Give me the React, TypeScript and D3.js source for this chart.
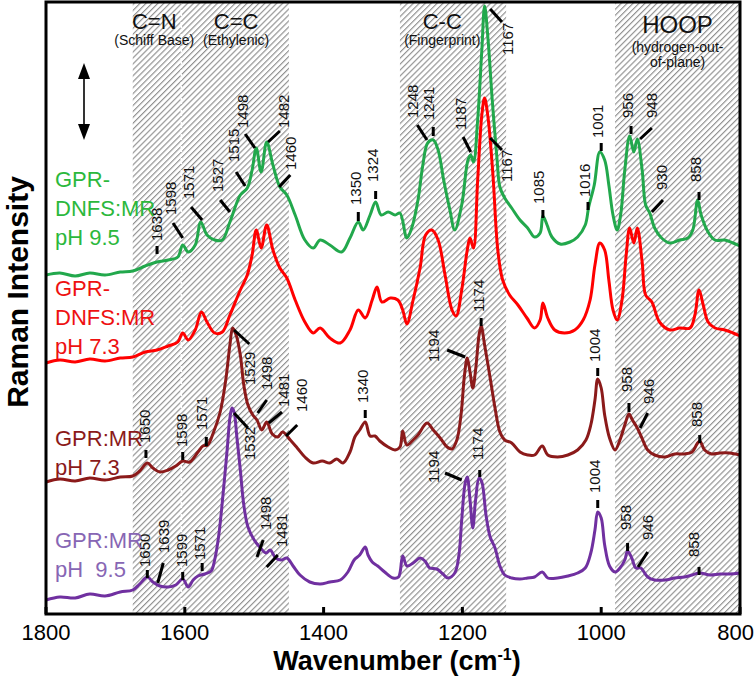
import React from 'react';
import * as d3 from 'd3';

// wavenumber axis (cm-1)
const wnTicks = [1800, 1600, 1400, 1200, 1000, 800];

// spectra: [wavenumber, intensity (a.u., offset stacked)]
const dnfs95 = [[1800,339],[1780,341],[1758,338],[1737,341],[1715,339],[1693,342],[1675,343],[1657,348],[1640,352],[1624,354],[1610,357],[1603,369],[1595,362],[1585,369],[1577,392],[1568,379],[1557,374],[1546,374],[1535,392],[1520,419],[1510,426],[1503,444],[1497,466],[1490,442],[1482,472],[1473,449],[1463,427],[1453,419],[1441,399],[1427,374],[1415,366],[1405,374],[1391,369],[1374,362],[1362,376],[1350,392],[1343,384],[1333,399],[1325,412],[1317,399],[1307,402],[1297,399],[1290,401],[1280,376],[1273,386],[1264,414],[1257,449],[1250,471],[1242,474],[1235,464],[1227,434],[1218,404],[1211,384],[1201,409],[1192,454],[1188,459],[1184,452],[1178,494],[1172,564],[1168,608],[1163,574],[1157,514],[1150,454],[1146,427],[1139,416],[1129,406],[1117,394],[1106,386],[1096,377],[1088,381],[1084,398],[1078,389],[1071,377],[1059,370],[1045,372],[1034,377],[1023,389],[1018,407],[1010,429],[1002,462],[995,454],[989,429],[983,399],[977,384],[972,399],[966,444],[959,478],[953,462],[948,475],[941,444],[936,409],[930,401],[923,386],[913,376],[901,371],[887,374],[875,376],[868,384],[861,414],[856,399],[846,382],[836,374],[822,374],[810,371],[800,368]];

const dnfs73 = [[1800,251],[1780,254],[1758,252],[1737,255],[1715,253],[1693,256],[1675,257],[1657,262],[1640,264],[1624,268],[1610,272],[1603,281],[1595,274],[1585,284],[1576,302],[1568,292],[1557,281],[1546,282],[1535,299],[1520,324],[1510,339],[1503,359],[1497,384],[1490,366],[1482,389],[1473,364],[1463,346],[1453,336],[1441,314],[1427,292],[1415,281],[1405,286],[1391,276],[1376,271],[1362,284],[1350,304],[1340,296],[1330,314],[1323,327],[1316,312],[1304,316],[1293,314],[1286,304],[1280,290],[1271,314],[1261,346],[1253,379],[1244,384],[1235,374],[1225,339],[1215,304],[1209,298],[1201,324],[1193,364],[1189,376],[1184,366],[1178,434],[1172,499],[1168,516],[1163,496],[1156,439],[1149,364],[1142,334],[1132,319],[1120,309],[1107,296],[1096,286],[1088,294],[1084,311],[1077,296],[1067,284],[1053,281],[1038,284],[1026,294],[1016,314],[1009,349],[1002,371],[995,364],[989,334],[983,304],[977,294],[970,314],[964,359],[959,386],[953,371],[948,386],[941,352],[936,319],[927,312],[916,292],[901,284],[887,286],[872,286],[865,299],[859,324],[853,309],[846,292],[836,286],[822,284],[810,281],[800,278]];

const gpr73 = [[1800,132],[1780,135],[1758,133],[1737,136],[1715,134],[1693,137],[1675,138],[1665,143],[1654,151],[1646,146],[1636,142],[1624,144],[1613,148],[1603,153],[1593,152],[1581,162],[1574,168],[1567,169],[1559,181],[1549,202],[1541,234],[1535,269],[1531,286],[1526,279],[1520,259],[1515,229],[1509,209],[1502,199],[1496,194],[1489,184],[1482,192],[1474,180],[1466,177],[1459,182],[1448,174],[1438,166],[1427,157],[1415,151],[1402,153],[1391,151],[1381,155],[1372,151],[1362,162],[1355,177],[1348,184],[1340,192],[1333,178],[1326,178],[1319,173],[1307,167],[1297,164],[1290,167],[1286,183],[1280,169],[1271,174],[1264,179],[1251,191],[1242,184],[1232,176],[1222,167],[1215,165],[1208,174],[1202,199],[1197,239],[1193,256],[1189,242],[1185,226],[1181,244],[1176,279],[1173,288],[1168,269],[1160,236],[1153,206],[1146,182],[1139,174],[1129,171],[1117,162],[1106,159],[1096,159],[1085,168],[1077,159],[1063,157],[1048,159],[1034,164],[1022,174],[1015,189],[1009,214],[1005,235],[1000,226],[995,199],[988,176],[980,164],[973,174],[966,189],[960,200],[955,194],[948,186],[942,177],[933,164],[923,159],[908,157],[894,160],[880,160],[869,162],[862,170],[858,173],[851,164],[841,160],[829,161],[815,161],[800,159]];

const gpr95 = [[1800,14],[1780,17],[1758,16],[1737,20],[1715,18],[1693,22],[1675,24],[1665,30],[1654,37],[1646,32],[1636,28],[1624,27],[1613,29],[1603,35],[1595,27],[1588,34],[1581,38],[1571,40],[1562,43],[1557,54],[1551,79],[1545,119],[1539,164],[1535,196],[1532,206],[1529,202],[1525,177],[1520,144],[1515,109],[1509,87],[1500,74],[1492,67],[1483,61],[1477,64],[1469,56],[1461,54],[1453,56],[1444,48],[1434,39],[1420,32],[1405,30],[1391,32],[1376,34],[1365,42],[1356,54],[1348,59],[1340,67],[1336,59],[1330,52],[1322,48],[1312,42],[1300,36],[1292,37],[1286,58],[1280,48],[1271,51],[1261,56],[1254,53],[1247,46],[1237,45],[1228,40],[1221,36],[1211,41],[1205,59],[1201,94],[1196,131],[1193,137],[1189,114],[1185,86],[1181,114],[1176,136],[1172,132],[1166,99],[1160,77],[1153,66],[1146,48],[1139,39],[1129,36],[1117,35],[1106,36],[1096,37],[1085,42],[1077,36],[1063,36],[1048,38],[1034,41],[1023,46],[1015,61],[1009,84],[1005,102],[1000,96],[995,69],[988,48],[980,42],[973,46],[966,54],[962,63],[956,56],[950,46],[943,46],[933,37],[923,34],[908,34],[894,36],[880,37],[869,39],[858,41],[843,39],[829,40],[815,40],[800,41]];

// series names (label lines) and colours
const seriesNames = [
  ['GPR-', 'DNFS:MR', 'pH 9.5'],
  ['GPR-', 'DNFS:MR', 'pH 7.3'],
  ['GPR:MR', 'pH 7.3'],
  ['GPR:MR', 'pH  9.5'],
];
const lineColors = ['#22a84c', '#ff0000', '#8b1a1a', '#7030a0'];
const labelColors = ['#2cb83c', '#ee1111', '#8b1a1a', '#8766b4'];
const labelTopV = [427, 318, 168, 66]; // intensity of first label line baseline

// shaded regions (cm-1)
const bands = [[1675, 1450], [1290, 1137], [980, 800]];
const bandSplit = 1605;
const bandTitles = [
  ['C=N', '(Schiff Base)', 1644, ''],
  ['C=C', '(Ethylenic)', 1526, ''],
  ['C-C', '(Fingerprint)', 1229, ''],
  ['HOOP', '(hydrogen-out-', 890, 'of-plane)'],
];

// peak annotations: [text, textWn, textV, markWn1, markV1, markWn2, markV2]
const peaks95dnfs = [
  ['1638', 1640, 373, 1640, 368, 1640, 360],
  ['1598', 1620, 399, 1617, 391, 1603, 376],
  ['1571', 1595, 415, 1591, 407, 1575, 394],
  ['1527', 1552, 422, 1549, 414, 1535, 402],
  ['1515', 1530, 452, 1526, 442, 1513, 428],
  ['1498', 1516, 486, 1513, 480, 1499, 466],
  ['1482', 1457, 486, 1463, 483, 1480, 472],
  ['1460', 1447, 444, 1448, 439, 1464, 427],
  ['1350', 1353, 409, 1350, 402, 1350, 393],
  ['1324', 1329, 432, 1325, 423, 1325, 415],
  ['1248', 1271, 496, 1265, 489, 1251, 474],
  ['1241', 1248, 494, 1242, 487, 1242, 478],
  ['1187', 1202, 484, 1199, 477, 1188, 462],
  ['1167', 1134, 559, 1160, 605, 1143, 592],
  ['1167', 1136, 432, 1160, 476, 1143, 464],
  ['1085', 1090, 410, 1084, 404, 1084, 396],
  ['1016', 1023, 417, 1019, 412, 1019, 404],
  ['1001', 1005, 476, 1000, 471, 1000, 463],
  ['956', 962, 496, 957, 488, 957, 480],
  ['948', 927, 496, 927, 486, 944, 475],
  ['930', 913, 424, 911, 414, 927, 402],
  ['858', 864, 432, 859, 422, 859, 414],
];
const peaks73gpr = [
  ['1529', 1506, 229, 1529, 284, 1507, 270],
  ['1498', 1482, 224, 1482, 214, 1495, 201],
  ['1481', 1457, 207, 1460, 202, 1479, 191],
  ['1460', 1431, 202, 1438, 189, 1454, 178],
  ['1340', 1343, 211, 1340, 204, 1340, 196],
  ['1650', 1657, 171, 1656, 164, 1656, 156],
  ['1598', 1604, 167, 1603, 162, 1603, 154],
  ['1571', 1575, 184, 1569, 177, 1569, 168],
  ['1194', 1241, 252, 1222, 264, 1196, 257],
  ['1174', 1176, 302, 1173, 296, 1173, 288],
  ['1004', 1009, 252, 1005, 246, 1005, 238],
  ['958', 963, 222, 960, 211, 960, 202],
  ['946', 931, 210, 933, 201, 944, 186],
  ['858', 862, 187, 858, 179, 858, 171],
];
const peaks95gpr = [
  ['1650', 1657, 47, 1654, 44, 1654, 36],
  ['1639', 1631, 61, 1631, 51, 1639, 31],
  ['1599', 1604, 47, 1603, 42, 1603, 34],
  ['1571', 1578, 54, 1575, 51, 1575, 43],
  ['1532', 1506, 154, 1529, 201, 1509, 186],
  ['1498', 1484, 84, 1487, 74, 1496, 57],
  ['1481', 1460, 67, 1466, 59, 1482, 47],
  ['1194', 1242, 131, 1225, 141, 1201, 134],
  ['1174', 1178, 154, 1175, 144, 1175, 137],
  ['1004', 1009, 121, 1005, 114, 1005, 106],
  ['958', 964, 84, 962, 71, 962, 63],
  ['946', 933, 74, 933, 62, 947, 47],
  ['858', 866, 57, 859, 47, 859, 39],
];

const W = 755, H = 676;
const font = 'Arial, "Liberation Sans", sans-serif';

export default function App() {
  const margin = { top: 2, right: 15, bottom: 62, left: 46 };
  const x = d3.scaleLinear().domain([1800, 800]).range([margin.left, W - margin.right]);
  const y = d3.scaleLinear().domain([0, 612]).range([H - margin.bottom, margin.top]);
  const line = d3.line<number[]>()
    .x(d => x(d[0]))
    .y(d => y(d[1]))
    .curve(d3.curveCatmullRom.alpha(0.5));

  const spectra = [dnfs95, dnfs73, gpr73, gpr95];
  const peaks = [...peaks95dnfs, ...peaks73gpr, ...peaks95gpr];
  const x0 = x.range()[0], x1 = x.range()[1];
  const y0 = y.range()[0], y1 = y.range()[1];

  return (
    <svg width={W} height={H} style={{ position: 'absolute', left: 0, top: 0, background: '#fff' }}
      fontFamily={font}>
      <defs>
        <pattern id="hatch" patternUnits="userSpaceOnUse" width="4.2" height="4.2"
          patternTransform="rotate(45)">
          <rect width="4.2" height="4.2" fill="#fff" />
          <line x1="0.6" y1="0" x2="0.6" y2="4.2" stroke="#8a8a8a" strokeWidth="1.1" />
        </pattern>
      </defs>

      {/* shaded regions */}
      {bands.map((b, i) => (
        <rect key={i} x={x(b[0])} y={y1} width={x(b[1]) - x(b[0])} height={y0 - y1} fill="url(#hatch)" />
      ))}
      <line x1={x(bandSplit)} x2={x(bandSplit)} y1={y1} y2={y0} stroke="#fff" strokeWidth={1.6} strokeDasharray="2,2" />

      {bandTitles.map((t, i) => (
        <g key={i} textAnchor="middle" fill="#111">
          <text x={x(t[2] as number)} y={i === 3 ? 33 : 29} fontSize={i === 3 ? 24 : 22}>{t[0]}</text>
          <text x={x(t[2] as number)} y={i === 3 ? 52 : 45} fontSize={14}>{t[1]}</text>
          {t[3] && <text x={x(t[2] as number)} y={67} fontSize={14}>{t[3]}</text>}
        </g>
      ))}

      {/* spectra */}
      {spectra.map((s, i) => (
        <path key={i} d={line(s) || ''} fill="none" stroke={lineColors[i]} strokeWidth={3} strokeLinejoin="round" />
      ))}

      {/* peak labels */}
      {peaks.map((p, i) => {
        const tx = x(p[1] as number), ty = y(p[2] as number);
        return (
          <g key={i}>
            <line x1={x(p[3] as number)} y1={y(p[4] as number)} x2={x(p[5] as number)} y2={y(p[6] as number)}
              stroke="#000" strokeWidth={3} />
            <text transform={`translate(${tx},${ty}) rotate(-90)`} dy="0.35em" fontSize={15} fill="#111">{p[0]}</text>
          </g>
        );
      })}

      {/* series labels */}
      {seriesNames.map((lines, i) => (
        <text key={i} x={55} y={y(labelTopV[i])} fontSize={22} fill={labelColors[i]}>
          {lines.map((l, j) => (
            <tspan key={j} x={55} dy={j === 0 ? 0 : 29} style={{ whiteSpace: 'pre' }}>{l}</tspan>
          ))}
        </text>
      ))}

      {/* intensity scale arrow */}
      <g>
        <line x1={84} x2={84} y1={75} y2={128} stroke="#000" strokeWidth={1.6} />
        <polygon points="84,63 78,79 90,79" fill="#000" />
        <polygon points="84,140 78,124 90,124" fill="#000" />
      </g>

      {/* frame and axis */}
      <rect x={x0} y={y1} width={x1 - x0} height={y0 - y1} fill="none" stroke="#000" strokeWidth={3} />
      {wnTicks.map((t, i) => (
        <g key={t}>
          <line x1={x(t)} x2={x(t)} y1={y0} y2={y0 - 7} stroke="#000" strokeWidth={3} />
          <text x={i === wnTicks.length - 1 ? W - 1 : x(t)} y={y0 + 26}
            textAnchor={i === wnTicks.length - 1 ? 'end' : 'middle'} fontSize={22} fill="#000">{t}</text>
        </g>
      ))}
      <text x={397} y={H - 6} textAnchor="middle" fontSize={27} fontWeight="bold" fill="#000">
        Wavenumber (cm<tspan dy={-10} fontSize={16}>-1</tspan><tspan dy={10}>)</tspan>
      </text>
      <text transform={`translate(28,${292}) rotate(-90)`} textAnchor="middle" fontSize={30} fontWeight="bold" fill="#000">
        Raman Intensity
      </text>
    </svg>
  );
}
